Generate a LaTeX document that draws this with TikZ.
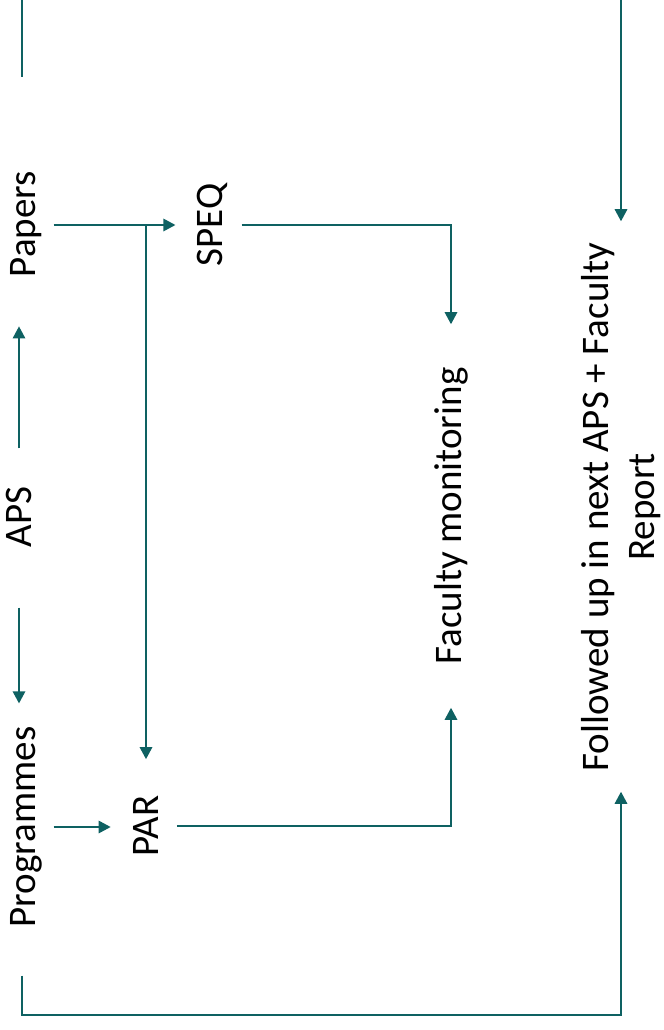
\documentclass[tikz,border=0pt]{standalone}
\usepackage{fontspec}
\setmainfont{Carlito}
\usetikzlibrary{arrows.meta}
\definecolor{flowteal}{RGB}{14,97,98}
\tikzset{
    basic/.style  = {font=\fontsize{22.2pt}{26.6pt}\selectfont, rotate=90, inner sep=0pt},
    stage/.style  = {basic, align=center},
    link/.style   = {draw=flowteal, line width=0.3mm},
    flow/.style   = {link, -{Triangle[length=2.4mm,width=2.5mm]}}
}
\begin{document}
\begin{tikzpicture}[x=0.2mm,y=-0.2mm]
	\useasboundingbox (0,0) rectangle (664,1030);
		\begin{scope}[every node/.style={stage}]
			\node (papers) at (26,224) {Papers};
			\node (aps) at (19,517) {APS};
			\node (programmes) at (26,827) {Programmes};
			\node (speq) at (212,225) {SPEQ};
			\node (par) at (146,826) {PAR};
			\node (faculty) at (451,516) {Faculty monitoring};
			\node (followed) at (621,507) {Followed up in next APS + Faculty\\Report};
		\end{scope}
		\coordinate (cut left) at (22,0);
		\coordinate (left end) at (22,77);
		\coordinate (cut right) at (621,0);
		\coordinate (base) at (0,1015);
		\draw[link] (cut left) -- (left end);
		\draw[flow, shorten >=4.2mm] (cut right) -- (cut right |- followed.east);
		\draw[flow, shorten <=7.6mm, shorten >=9.8mm] (aps.east) -- (aps.east |- papers.west);
		\draw[flow, shorten <=12mm, shorten >=4.6mm] (aps.west) -- (aps.west |- programmes.east);
		\draw[flow, shorten <=2.3mm, shorten >=4.5mm] (programmes.south) -- (par.north |- programmes.south);
		\draw[flow, shorten <=2.3mm, shorten >=4.2mm] (papers.south |- speq) -- (speq.north);
		\draw[flow, shorten >=7.2mm] (par |- speq) -- (par.east);
		\draw[flow, shorten <=2.8mm, shorten >=8.6mm] (speq.south) -| (faculty.east);
		\draw[flow, shorten <=3.6mm, shorten >=8.6mm] (par.south) -| (faculty.west);
		\draw[flow, shorten <=9.6mm, shorten >=4mm] (left end |- programmes.west) -- (left end |- base) -| (followed.west);
	\end{tikzpicture}
\end{document}
